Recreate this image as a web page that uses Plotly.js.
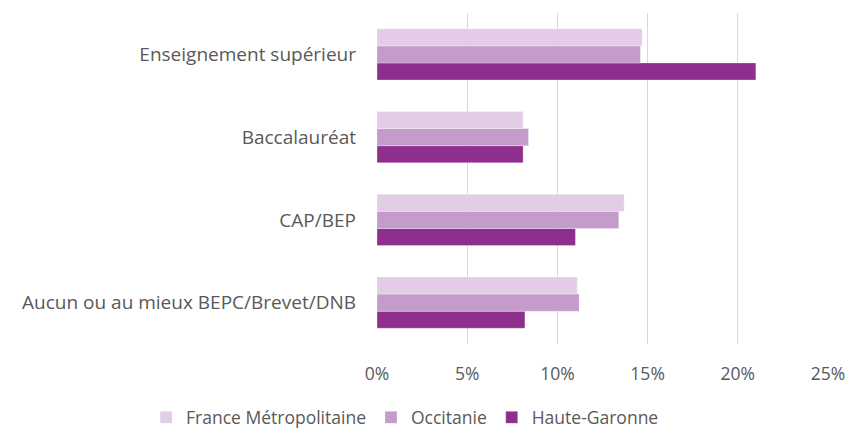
<!DOCTYPE html>
<html><head><meta charset="utf-8">
<script src="https://cdn.plot.ly/plotly-3.0.1.min.js"></script>
<style>html,body{margin:0;padding:0;background:#fff;}#chart{width:855px;height:434px;}</style>
</head><body><div id="chart"></div>
<script>
const categories = ["Aucun ou au mieux BEPC/Brevet/DNB", "CAP/BEP", "Baccalauréat", "Enseignement supérieur"];
const franceMetro = [0.111, 0.137, 0.081, 0.147];
const occitanie = [0.112, 0.134, 0.084, 0.146];
const hauteGaronne = [0.082, 0.110, 0.081, 0.210];
const tickVals = [0, 0.05, 0.10, 0.15, 0.20, 0.25];
const tickText = ["0%", "5%", "10%", "15%", "20%", "25%"];

const mk = (name, x, color) => ({
  type: 'bar', orientation: 'h', name: name, x: x, y: categories,
  marker: {color: color, line: {color: 'rgba(255,255,255,0.6)', width: 0.5}},
  hoverinfo: 'none'
});
const data = [
  mk('Haute-Garonne', hauteGaronne, '#8e2f8d'),
  mk('Occitanie', occitanie, '#c49bcb'),
  mk('France Métropolitaine', franceMetro, '#e2cce6')
];
const layout = {
  width: 855, height: 434,
  margin: {l: 377, r: 27, t: 13, b: 90, autoexpand: false},
  barmode: 'group', bargap: 0.38, bargroupgap: 0,
  paper_bgcolor: '#fff', plot_bgcolor: '#fff',
  font: {family: 'Open Sans, sans-serif', size: 17, color: '#595959'},
  xaxis: {range: [0, 0.25], tickvals: tickVals, ticktext: tickText, showgrid: true,
          gridcolor: '#d9d9d9', gridwidth: 1, zeroline: false, showline: false,
          ticks: '', fixedrange: true, ticklabelstandoff: 17,
          tickfont: {size: 17.5, color: '#595959'}},
  yaxis: {showgrid: false, zeroline: false, showline: false, ticks: '',
          ticklabelstandoff: 20, tickfont: {size: 19, color: '#595959'}},
  showlegend: true,
  legend: {orientation: 'h', traceorder: 'reversed', xref: 'paper', yref: 'paper',
           x: -0.512, xanchor: 'left', y: -0.222, yanchor: 'middle',
           font: {size: 17.5, color: '#595959'}, itemwidth: 30}
};
Plotly.newPlot('chart', data, layout, {displayModeBar: false, staticPlot: true});
</script></body></html>
